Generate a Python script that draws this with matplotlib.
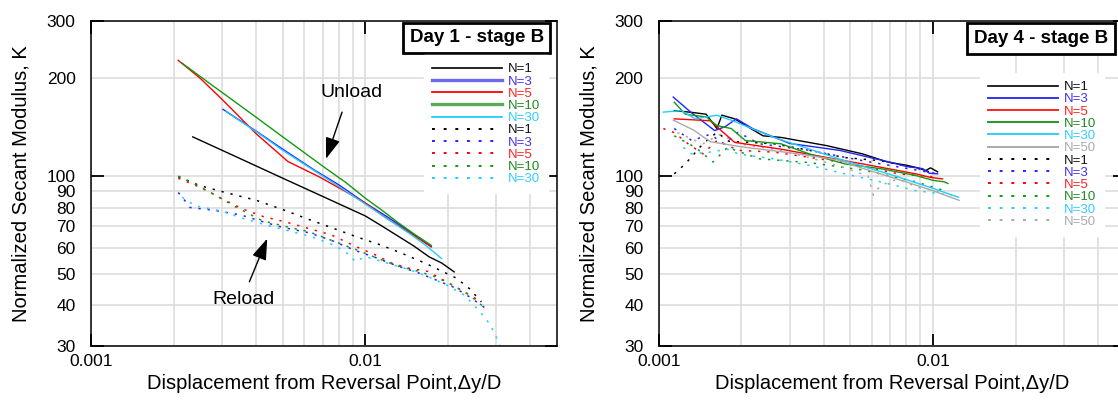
import matplotlib
matplotlib.use("Agg")
import matplotlib.pyplot as plt
from matplotlib.lines import Line2D
from matplotlib.ticker import FixedLocator, NullFormatter, FixedFormatter

plt.rcParams['font.family'] = ['Liberation Sans', 'DejaVu Sans']

# ---------------- Day 1 - stage B ----------------
# unload branches (solid)
d1_un_n1_x = [0.00235, 0.00348, 0.0050, 0.0068, 0.0100, 0.0114, 0.0133, 0.0150, 0.0171, 0.0190, 0.0211]
d1_un_n1_y = [132, 113.4, 98.5, 87.5, 75.4, 70.5, 65.0, 61.0, 56.4, 54.0, 50.7]
d1_un_n3_x = [0.00303, 0.0040, 0.0050, 0.0065, 0.0080, 0.0100, 0.0120, 0.0145, 0.0174]
d1_un_n3_y = [160.4, 137.5, 121, 104.5, 94, 82.6, 75, 67.5, 60.6]
d1_un_n5_x = [0.00208, 0.0025, 0.00303, 0.0040, 0.00522, 0.0068, 0.0085, 0.0100, 0.0120, 0.0145, 0.0174]
d1_un_n5_y = [227, 200, 171, 135, 110.9, 99.4, 89.5, 82.6, 74, 67, 60.6]
d1_un_n10_x = [0.00214, 0.0030, 0.0040, 0.0050, 0.00708, 0.0085, 0.0100, 0.0115, 0.0130, 0.0150, 0.0174]
d1_un_n10_y = [223, 181, 151.7, 132, 106.5, 95.5, 85.5, 78.5, 72.5, 66.5, 61.2]
d1_un_n30_x = [0.0031, 0.0040, 0.0050, 0.0065, 0.0080, 0.0100, 0.0120, 0.0145, 0.0165, 0.0190]
d1_un_n30_y = [158, 137, 120, 104, 93, 82, 74, 66.5, 61.5, 55.7]

# reload branches (dotted)
d1_re_n1_x = [0.00208, 0.00249, 0.00306, 0.00401, 0.0051, 0.0061, 0.0075, 0.0093, 0.0113, 0.0135, 0.0165, 0.0190, 0.0215, 0.0240, 0.0265]
d1_re_n1_y = [99.6, 93.5, 89.2, 84.2, 78.4, 74, 69.5, 65, 61.5, 58, 54, 51, 48.5, 45, 41]
d1_re_n3_x = [0.00208, 0.0022, 0.0023, 0.0028, 0.0035, 0.0042, 0.0050, 0.0062, 0.0075, 0.0092, 0.0110, 0.0130, 0.0155, 0.0180, 0.0210, 0.0240, 0.0273]
d1_re_n3_y = [89, 84, 80, 78.5, 76, 72.5, 69.5, 67, 63.5, 59, 56, 53, 50.5, 48, 45.5, 42.5, 39.3]
d1_re_n5_x = [0.00208, 0.00256, 0.00293, 0.00356, 0.00426, 0.0051, 0.00592, 0.00752, 0.00928, 0.0110, 0.01252, 0.0145, 0.0169, 0.0202, 0.0230, 0.0257]
d1_re_n5_y = [98.5, 91.5, 86, 79.3, 75, 72.3, 69.8, 65.9, 60.6, 57, 53.9, 52, 50.9, 46.8, 44, 41.6]
d1_re_n10_x = [0.00208, 0.00235, 0.0028, 0.0034, 0.0042, 0.0051, 0.0062, 0.0075, 0.0092, 0.0110, 0.0130, 0.0155, 0.0180, 0.0210, 0.0240, 0.0273]
d1_re_n10_y = [100, 95, 88, 80, 73, 70, 67.5, 63.5, 59.5, 56, 53, 51, 49, 46, 43, 39.3]
d1_re_n30_x = [0.00215, 0.0024, 0.0030, 0.0036, 0.0044, 0.0052, 0.0064, 0.0078, 0.0088, 0.0092, 0.0100, 0.0120, 0.0145, 0.0170, 0.0200, 0.0230, 0.0260, 0.0285, 0.0300, 0.0315]
d1_re_n30_y = [86, 81, 78, 74, 70.5, 68, 65, 61, 57, 54.5, 56.5, 54, 51.5, 49, 46, 43, 38.5, 35, 32, 29]

# ---------------- Day 4 - stage B ----------------
d4_un_n1_x = [0.00114, 0.00132, 0.00149, 0.00163, 0.0017, 0.00189, 0.0024, 0.00279, 0.00411, 0.00554, 0.00682, 0.0080, 0.0088, 0.0094, 0.0098, 0.0104]
d4_un_n1_y = [159, 157, 155, 140, 154, 150, 133, 131.5, 124, 117, 110.5, 108, 106, 104, 106, 103]
d4_un_n3_x = [0.00113, 0.0013, 0.0016, 0.00175, 0.00192, 0.0022, 0.0030, 0.00456, 0.00694, 0.0080, 0.00917, 0.0097, 0.0104]
d4_un_n3_y = [175, 158, 138, 142, 150, 140, 126, 120, 110.4, 107, 105.4, 102, 101.6]
d4_un_n5_x = [0.00114, 0.00154, 0.00189, 0.00279, 0.00411, 0.00554, 0.00866, 0.0098, 0.01084]
d4_un_n5_y = [150, 148, 127, 121, 114, 109, 101.6, 99, 98]
d4_un_n10_x = [0.00114, 0.00125, 0.00149, 0.00163, 0.00184, 0.00207, 0.00279, 0.00354, 0.00477, 0.00643, 0.00866, 0.0100, 0.0110, 0.01133]
d4_un_n10_y = [168.7, 155, 152, 143, 140, 128.6, 125.7, 117, 109, 105.4, 100.4, 97, 96, 94.9]
d4_un_n30_x = [0.00104, 0.00121, 0.00136, 0.00163, 0.00184, 0.00263, 0.00477, 0.00747, 0.01006, 0.0124]
d4_un_n30_y = [157.3, 159, 150, 153.9, 148.5, 131.5, 111.5, 99.4, 91.5, 86]
d4_un_n50_x = [0.00113, 0.00134, 0.00154, 0.0020, 0.0030, 0.00456, 0.0051, 0.00798, 0.00997, 0.01246]
d4_un_n50_y = [148.6, 138.5, 127.6, 123, 118, 112, 108, 96, 90.2, 84.2]

d4_re_n1_x = [0.00114, 0.00125, 0.00145, 0.00163, 0.0018, 0.00263, 0.00354, 0.00477, 0.00643, 0.00866, 0.0101]
d4_re_n1_y = [101.6, 109, 125.7, 136.3, 128, 125.7, 120, 114, 111.5, 106, 102]
d4_re_n3_x = [0.00114, 0.00132, 0.00154, 0.00173, 0.00195, 0.00233, 0.00354, 0.00554, 0.00866, 0.0104]
d4_re_n3_y = [140, 128.6, 134.4, 125.7, 136.3, 125.7, 120, 111.5, 104.4, 101.6]
d4_re_n5_x = [0.00104, 0.00114, 0.00128, 0.00145, 0.00163, 0.00195, 0.00263, 0.00477, 0.00747, 0.0101]
d4_re_n5_y = [140, 136, 125.7, 117, 128.6, 120, 118.5, 110, 101.6, 99.4]
d4_re_n10_x = [0.00114, 0.00136, 0.00158, 0.00178, 0.00233, 0.00354, 0.00554, 0.00866, 0.0110]
d4_re_n10_y = [133, 122.5, 110.5, 122.5, 113, 110, 104.4, 96, 90.2]
d4_re_n30_x = [0.00123, 0.00132, 0.00154, 0.00178, 0.00195, 0.00263, 0.00354, 0.00477, 0.00643, 0.00866, 0.01168]
d4_re_n30_y = [122.5, 117, 118.5, 121, 117, 113, 107.9, 101.6, 96, 90.2, 87.3]
d4_re_n50_x = [0.00117, 0.00145, 0.00168, 0.00195, 0.00263, 0.00354, 0.00477, 0.0058, 0.00606, 0.00643, 0.00747, 0.00866, 0.0107]
d4_re_n50_y = [136, 125.7, 134.4, 125.7, 121, 114, 106, 100, 87.3, 93.6, 98, 92.7, 89]

cycle_labels_d1 = ["N=1", "N=3", "N=5", "N=10", "N=30"]
cycle_labels_d4 = ["N=1", "N=3", "N=5", "N=10", "N=30", "N=50"]
cycle_colors = ["#000000", "#2222ff", "#ff0000", "#119911", "#22ccff", "#aaaaaa"]
text_colors = ["#111111", "#4433ee", "#ff2222", "#228822", "#33ccff", "#aaaaaa"]

y_major = [30, 100, 300]
y_minor = [40, 50, 60, 70, 80, 90, 200]
x_major = [0.001, 0.01]
x_minor = [0.002, 0.003, 0.004, 0.005, 0.006, 0.007, 0.008, 0.009, 0.02, 0.03, 0.04]

DOT = (0, (1.5, 4.5))

fig = plt.figure(figsize=(11.18, 4.08), dpi=100)
ax1 = fig.add_axes([91 / 1118, 62 / 408, 466 / 1118, 325 / 408])
ax2 = fig.add_axes([658.7 / 1118, 62 / 408, 466 / 1118, 325 / 408])


def style_axes(ax):
    ax.set_xscale('log')
    ax.set_yscale('log')
    ax.set_xlim(0.001, 0.05)
    ax.set_ylim(30, 300)
    ax.xaxis.set_major_locator(FixedLocator(x_major))
    ax.xaxis.set_major_formatter(FixedFormatter(["0.001", "0.01"]))
    ax.xaxis.set_minor_locator(FixedLocator(x_minor))
    ax.xaxis.set_minor_formatter(NullFormatter())
    ax.yaxis.set_major_locator(FixedLocator(y_major))
    ax.yaxis.set_major_formatter(FixedFormatter([str(v) for v in y_major]))
    ax.yaxis.set_minor_locator(FixedLocator(y_minor))
    ax.yaxis.set_minor_formatter(FixedFormatter([str(v) for v in y_minor]))
    ax.grid(True, which='both', color='#dddddd', lw=1.2)
    ax.set_axisbelow(True)
    ax.tick_params(which='major', direction='in', length=9, width=1.3,
                   top=True, right=True, labelsize=12.5, pad=6)
    ax.tick_params(which='minor', length=0, labelsize=12.5, pad=6)
    ax.tick_params(axis='y', which='both', pad=11)
    for sp in ax.spines.values():
        sp.set_linewidth(1.1)
    ax.set_ylabel("Normalized Secant Modulus, K", fontsize=14.5)
    ax.set_xlabel("Displacement from Reversal Point,\u0394y/D", fontsize=14.5)
    ax.yaxis.set_label_coords(-0.13, 0.5)
    ax.xaxis.set_label_coords(0.5, -0.085)


style_axes(ax1)
style_axes(ax2)

# ----- Day 1 curves -----
d1_unload = [(d1_un_n1_x, d1_un_n1_y), (d1_un_n3_x, d1_un_n3_y), (d1_un_n5_x, d1_un_n5_y),
             (d1_un_n10_x, d1_un_n10_y), (d1_un_n30_x, d1_un_n30_y)]
d1_reload = [(d1_re_n1_x, d1_re_n1_y), (d1_re_n3_x, d1_re_n3_y), (d1_re_n5_x, d1_re_n5_y),
             (d1_re_n10_x, d1_re_n10_y), (d1_re_n30_x, d1_re_n30_y)]
for (x, y), c in zip(d1_reload, cycle_colors):
    ax1.plot(x, y, color=c, lw=1.1, ls=DOT)
for (x, y), c in zip(d1_unload, cycle_colors):
    ax1.plot(x, y, color=c, lw=1.0)

# ----- Day 4 curves -----
d4_unload = [(d4_un_n1_x, d4_un_n1_y), (d4_un_n3_x, d4_un_n3_y), (d4_un_n5_x, d4_un_n5_y),
             (d4_un_n10_x, d4_un_n10_y), (d4_un_n30_x, d4_un_n30_y), (d4_un_n50_x, d4_un_n50_y)]
d4_reload = [(d4_re_n1_x, d4_re_n1_y), (d4_re_n3_x, d4_re_n3_y), (d4_re_n5_x, d4_re_n5_y),
             (d4_re_n10_x, d4_re_n10_y), (d4_re_n30_x, d4_re_n30_y), (d4_re_n50_x, d4_re_n50_y)]
for (x, y), c in zip(d4_reload, cycle_colors):
    ax2.plot(x, y, color=c, lw=1.1, ls=DOT)
for (x, y), c in zip(d4_unload, cycle_colors):
    ax2.plot(x, y, color=c, lw=1.0)


def cycle_legend(ax, labels, anchor, solid_styles):
    n = len(labels)
    handles = [Line2D([], [], color=c, lw=w) for c, w in solid_styles[:n]]
    handles += [Line2D([], [], color=c, lw=1.4, ls=DOT) for c in cycle_colors[:n]]
    leg = ax.legend(handles, labels + labels, loc='upper left', bbox_to_anchor=anchor,
                    fontsize=9.5, labelspacing=0.0, handlelength=5.3, handletextpad=0.45,
                    borderpad=0.6, borderaxespad=0, frameon=True, fancybox=False,
                    framealpha=1, facecolor='white', edgecolor='white')
    for t, c in zip(leg.get_texts(), text_colors[:n] + text_colors[:n]):
        t.set_color(c)
    return leg


d1_legend_solid = [("#000000", 1.2), ("#6a6aee", 2.4), ("#ff0000", 1.3),
                   ("#5aaa5a", 2.4), ("#22ccff", 1.3)]
d4_legend_solid = [("#000000", 1.2), ("#3333ee", 1.4), ("#ff2222", 1.4),
                   ("#229922", 1.4), ("#33ccff", 1.4), ("#aaaaaa", 1.4)]
cycle_legend(ax1, cycle_labels_d1, (0.715, 0.895), d1_legend_solid)
cycle_legend(ax2, cycle_labels_d4, (0.69, 0.84), d4_legend_solid)

box = dict(boxstyle='square,pad=0.35', facecolor='white', edgecolor='black', lw=2)
ax1.text(0.828, 0.948, "Day 1 - stage B", transform=ax1.transAxes, ha='center', va='center',
         fontsize=13.5, fontweight='bold', bbox=box, zorder=5)
ax2.text(0.8204, 0.946, "Day 4 - stage B", transform=ax2.transAxes, ha='center', va='center',
         fontsize=13.5, fontweight='bold', bbox=box, zorder=5)

arrow = dict(arrowstyle='-|>,head_length=1.3,head_width=0.45', color='black', lw=1.0,
             shrinkA=0, shrinkB=0)
ax1.text(0.0089, 181, "Unload", fontsize=14, ha='center', va='center')
ax1.annotate("", xy=(0.00719, 113), xytext=(0.00823, 157.3), arrowprops=arrow)
ax1.text(0.00361, 41.6, "Reload", fontsize=14, ha='center', va='center')
ax1.annotate("", xy=(0.00439, 64.2), xytext=(0.00378, 47.3), arrowprops=arrow)

fig.savefig("out.png", dpi=100)
